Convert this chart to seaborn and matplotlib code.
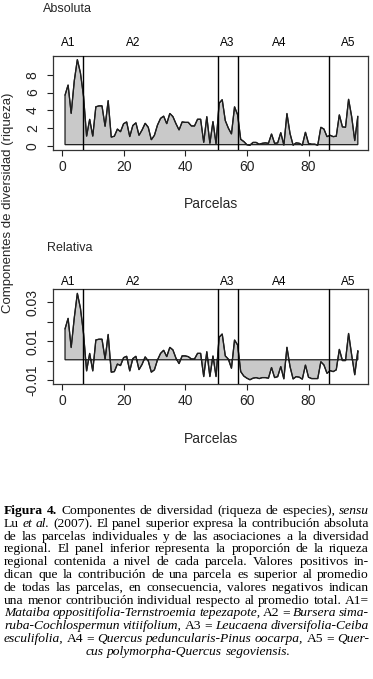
import numpy as np
import matplotlib
matplotlib.use("Agg")
import matplotlib.pyplot as plt
import matplotlib.transforms as mtransforms
import seaborn as sns

# ---------------- data ----------------
parcelas = list(range(1, 97))
absoluta = [5.7, 6.85, 3.65, 7.3, 9.7, 8.2, 5.6, 1.1, 3.0, 1.1,
            4.4, 4.5, 4.5, 2.2, 5.1, 1.0, 1.1, 1.9, 1.6, 2.5,
            2.7, 1.05, 2.3, 2.6, 1.2, 1.8, 2.55, 2.1, 0.7, 1.2,
            2.35, 3.1, 3.35, 2.5, 3.65, 3.3, 2.5, 1.8, 2.7, 2.65,
            2.65, 2.25, 2.25, 3.0, 3.0, 0.4, 3.3, 0.3, 2.75, 0.25,
            4.8, 5.2, 2.85, 2.0, 1.35, 4.4, 3.5, 0.75, 0.5, 0.15,
            0.1, 0.4, 0.4, 0.2, 0.3, 0.35, 0.3, 1.35, 0.3, 0.35,
            1.5, 0.1, 3.65, 1.4, 0.1, 0.35, 0.3, 0.1, 1.55, 0.3,
            0.2, 0.2, 0.1, 2.1, 1.9, 1.05, 1.2, 1.05, 1.1, 3.5,
            2.15, 2.1, 5.25, 3.3, 0.6, 3.35]
relativa = [0.0163, 0.0218, 0.0067, 0.022, 0.0347, 0.027, 0.014, -0.0054, 0.0037, -0.0054,
            0.0106, 0.011, 0.011, 0.0008, 0.0135, -0.006, -0.0057, -0.0018, -0.0026, 0.0015,
            0.0022, -0.0054, 0.001, 0.0022, -0.0047, -0.002, 0.0019, -0.0002, -0.006, -0.0048,
            0.0003, 0.0037, 0.0053, 0.002, 0.0068, 0.0055, 0.0012, -0.0016, 0.0024, 0.0024,
            0.002, 0.0008, 0.0008, 0.0037, 0.0037, -0.0083, 0.0046, -0.0083, 0.0024, -0.0083,
            0.012, 0.0137, 0.0024, 0.0007, -0.004, 0.0106, 0.008, -0.0057, -0.008, -0.0091,
            -0.0099, -0.0091, -0.0088, -0.0093, -0.0088, -0.0088, -0.0091, -0.0036, -0.0088, -0.0083,
            -0.0031, -0.0095, 0.0069, -0.0031, -0.0095, -0.0083, -0.0086, -0.0096, -0.0023, -0.0086,
            -0.0093, -0.0093, -0.0093, -0.0006, -0.0023, -0.0066, -0.0052, -0.0057, -0.0048, 0.0058,
            0.0, 0.0, 0.014, 0.0029, -0.0074, 0.0051]
base_abs = 0.15
base_rel = 0.0004
limites = [6.8, 50.5, 57.2, 86.7]
asociaciones = ["A1", "A2", "A3", "A4", "A5"]
pos_asoc = [2, 23, 53.5, 70.5, 93]
xticks = [0, 20, 40, 60, 80]
yticks_abs = [0, 2, 4, 6, 8]
yticks_rel = [-0.01, 0.0, 0.01, 0.02, 0.03]
yticklabels_rel = ["-0.01", "", "0.01", "", "0.03"]

# ---------------- figure ----------------
sns.set_theme(style="white")
plt.rcParams["font.family"] = ["Liberation Sans", "DejaVu Sans"]

W, H = 373, 679
fig = plt.figure(figsize=(W / 100, H / 100), dpi=100)
fig.patch.set_facecolor("white")


def px_axes(l, t, r, b):
    return fig.add_axes([l / W, 1 - b / H, (r - l) / W, (b - t) / H])


def panel(ax, y, base, ylim, yticks, yticklabels, lab_y):
    xs = np.array(parcelas, dtype=float)
    ys = np.array(y, dtype=float)
    px = np.concatenate([xs, xs[::-1]])
    py = np.concatenate([ys, np.full(len(xs), base)])
    ax.fill(px, py, facecolor="#c9c9c9", edgecolor="#1e1e1e", linewidth=0.9, zorder=2)
    sns.lineplot(x=xs, y=ys, ax=ax, color="#1e1e1e", linewidth=0.9,
                 estimator=None, sort=False, zorder=3)
    for b in limites:
        ax.axvline(b, color="black", linewidth=1.0, zorder=4)
    trans = mtransforms.blended_transform_factory(ax.transData, ax.transAxes)
    for name, xp in zip(asociaciones, pos_asoc):
        ax.text(xp, lab_y, name, transform=trans, ha="center", va="center",
                fontsize=8.5, color="black", clip_on=False)
    ax.set_xlim(-2.9, 99.3)
    ax.set_ylim(*ylim)
    ax.set_xticks(xticks)
    ax.set_xticklabels([str(v) for v in xticks])
    ax.set_yticks(yticks)
    ax.set_yticklabels(yticklabels)
    ax.set_xlabel("")
    ax.set_ylabel("")
    ax.tick_params(axis="both", direction="out", length=4.5, width=0.8,
                   colors="#222222", labelsize=10, bottom=True, left=True)
    ax.tick_params(axis="x", pad=3)
    ax.tick_params(axis="y", pad=5, labelrotation=90)
    for lab in ax.get_yticklabels():
        lab.set_va("center")
    for s in ax.spines.values():
        s.set_visible(True)
        s.set_color("#333333")
        s.set_linewidth(0.9)
    ax.grid(False)
    ax.set_facecolor("white")


ax1 = px_axes(53, 56, 368, 150)
panel(ax1, absoluta, base_abs, (-0.45, 10.1), yticks_abs,
      [str(v) for v in yticks_abs], 1 + 13 / 94)
ax2 = px_axes(53, 289, 368, 384)
panel(ax2, relativa, base_rel, (-0.0121, 0.0369), yticks_rel,
      yticklabels_rel, 1 + 7.5 / 95)

fig.text(43 / W, 1 - 9.5 / H, "Absoluta", ha="left", va="center", fontsize=9)
fig.text(47 / W, 1 - 248 / H, "Relativa", ha="left", va="center", fontsize=9)
fig.text(211 / W, 1 - 204 / H, "Parcelas", ha="center", va="center", fontsize=10)
fig.text(211 / W, 1 - 439 / H, "Parcelas", ha="center", va="center", fontsize=10)
fig.text(8 / W, 1 - 203 / H, "Componentes de diversidad (riqueza)", rotation=90,
         ha="center", va="center", fontsize=9.5)

# ---------------- caption (justified) ----------------
caption = [
    [("Figura 4.", "bold"), ("Componentes de diversidad (riqueza de especies),", "normal"), ("sensu", "italic")],
    [("Lu", "normal"), ("et al.", "italic"), ("(2007). El panel superior expresa la contribución absoluta", "normal")],
    [("de las parcelas individuales y de las asociaciones a la diversidad", "normal")],
    [("regional. El panel inferior representa la proporción de la riqueza", "normal")],
    [("regional contenida a nivel de cada parcela. Valores positivos in-", "normal")],
    [("dican que la contribución de una parcela es superior al promedio", "normal")],
    [("de todas las parcelas, en consecuencia, valores negativos indican", "normal")],
    [("una menor contribución individual respecto al promedio total. A1=", "normal")],
    [("Mataiba oppositifolia-Ternstroemia tepezapote,", "italic"), ("A2 =", "normal"), ("Bursera sima-", "italic")],
    [("ruba-Cochlospermun vitiifolium,", "italic"), ("A3 =", "normal"), ("Leucaena diversifolia-Ceiba", "italic")],
    [("esculifolia,", "italic"), ("A4 =", "normal"), ("Quercus peduncularis-Pinus oocarpa,", "italic"),
     ("A5 =", "normal"), ("Quer-", "italic")],
    [("cus polymorpha-Quercus segoviensis.", "italic")],
]

renderer = fig.canvas.get_renderer()
serif = "Liberation Serif"


def style_kw(st):
    if st == "bold":
        return dict(weight="bold", style="normal")
    if st == "italic":
        return dict(weight="normal", style="italic")
    return dict(weight="normal", style="normal")


def wwidth(word, st, fs):
    t = fig.text(0, 0, word, fontsize=fs, family=serif, **style_kw(st))
    w = t.get_window_extent(renderer=renderer).width
    t.remove()
    return w


lines_words = []
for line in caption:
    words = []
    for txt, st in line:
        for w in txt.split(" "):
            if w:
                words.append((w, st))
    lines_words.append(words)

left_px, right_px = 4.0, 369.0
avail = right_px - left_px
fs = 9.7
min_gap = 2.2

base0 = 514.0
lh = 12.8
for k, words in enumerate(lines_words):
    widths = [wwidth(w, st, fs) for w, st in words]
    ybase = 1 - (base0 + k * lh) / H
    scale = 1.0
    if k < len(lines_words) - 1:
        gap = (avail - sum(widths)) / max(len(words) - 1, 1)
        if gap < min_gap:
            scale = (avail - min_gap * (len(words) - 1)) / sum(widths)
            widths = [w * scale for w in widths]
            gap = min_gap
        x = left_px
    else:
        gap = 0.25 * fs * 100 / 72
        total = sum(widths) + gap * (len(words) - 1)
        x = 188 - total / 2
    for (w, st), wd in zip(words, widths):
        fig.text(x / W, ybase, w, fontsize=fs * scale, family=serif, ha="left",
                 va="baseline", color="black", **style_kw(st))
        x += wd + gap

fig.savefig("out.png", dpi=100, facecolor="white")
